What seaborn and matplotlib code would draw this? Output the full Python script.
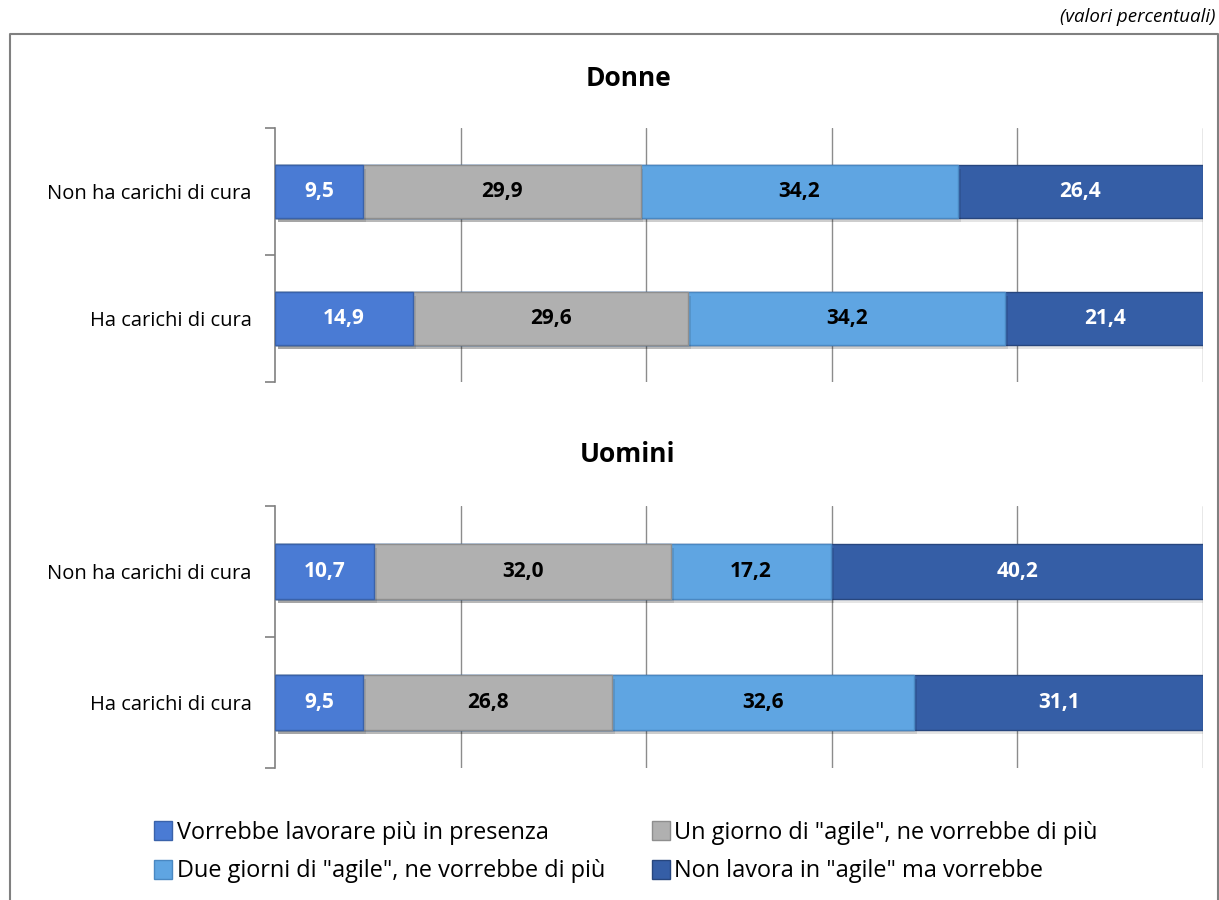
import matplotlib
matplotlib.use("Agg")
import matplotlib.pyplot as plt
import matplotlib.patheffects as pe
from matplotlib.patches import Patch
from matplotlib.lines import Line2D
import numpy as np
import pandas as pd
import seaborn as sns

# Data (percent shares)
categories = ["Non ha carichi di cura", "Ha carichi di cura"]
series_names = [
    "Vorrebbe lavorare più in presenza",
    "Un giorno di \"agile\", ne vorrebbe di più",
    "Due giorni di \"agile\", ne vorrebbe di più",
    "Non lavora in \"agile\" ma vorrebbe",
]
donne = {
    series_names[0]: [9.5, 14.9],
    series_names[1]: [29.9, 29.6],
    series_names[2]: [34.2, 34.2],
    series_names[3]: [26.4, 21.4],
}
uomini = {
    series_names[0]: [10.7, 9.5],
    series_names[1]: [32.0, 26.8],
    series_names[2]: [17.2, 32.6],
    series_names[3]: [40.2, 31.1],
}
panel_titles = ["Donne", "Uomini"]
colors = ["#4A7BD4", "#B0B0B0", "#5FA5E2", "#355EA6"]
edge_colors = ["#3A62AA", "#8E8E8E", "#4A88C2", "#27467E"]
text_colors = ["white", "black", "black", "white"]

sns.set_theme(style="white")
plt.rcParams["font.family"] = ["Open Sans", "DejaVu Sans"]
plt.rcParams["text.color"] = "black"
plt.rcParams["ytick.labelcolor"] = "black"

fig = plt.figure(figsize=(12.19, 9.0), dpi=100)

ax_left = 275 / 1219
ax_width = (1203 - 275) / 1219
axes_specs = [
    (1 - 382 / 900, (382 - 128) / 900),
    (1 - 768 / 900, (768 - 506) / 900),
]
title_y = [1 - 78 / 900, 1 - 455 / 900]

shadow = [pe.SimplePatchShadow(offset=(2, -3), shadow_rgbFace="#000000", alpha=0.1), pe.Normal()]

for data, (bottom, height), title, ty in zip([donne, uomini], axes_specs, panel_titles, title_y):
    ax = fig.add_axes([ax_left, bottom, ax_width, height])
    df = pd.DataFrame(data, index=categories)
    cum = df.cumsum(axis=1)
    # stacked bars: draw cumulative totals from the outermost segment inwards
    for i in range(len(series_names) - 1, -1, -1):
        name = series_names[i]
        sns.barplot(
            x=cum[name].values, y=categories, orient="h", ax=ax,
            color=colors[i], width=0.42, saturation=1,
            edgecolor=edge_colors[i], linewidth=1.0, zorder=3 + (len(series_names) - i),
        )
    for p in ax.patches:
        p.set_path_effects(shadow)
    # value labels centered in each segment
    for j, cat in enumerate(categories):
        start = 0.0
        for i, name in enumerate(series_names):
            v = df.loc[cat, name]
            ax.text(start + v / 2, j, f"{v:.1f}".replace(".", ","),
                    ha="center", va="center", fontsize=15, fontweight="bold",
                    color=text_colors[i], zorder=20)
            start += v
    ax.set_xlim(0, 100)
    ax.set_ylim(1.5, -0.5)
    ax.set_xticks([20, 40, 60, 80, 100])
    ax.set_xticklabels([])
    ax.tick_params(axis="x", length=0)
    ax.grid(axis="x", color="#8C8C8C", linewidth=1.0, zorder=0)
    ax.grid(axis="y", visible=False)
    ax.set_axisbelow(True)
    ax.set_yticks([-0.5, 0.5, 1.5])
    ax.set_yticklabels([])
    ax.set_yticks([0, 1], minor=True)
    ax.set_yticklabels(categories, minor=True, fontsize=14.5, color="black")
    ax.tick_params(axis="y", which="major", direction="out", length=7, width=1.2,
                   color="#808080", left=True)
    ax.tick_params(axis="y", which="minor", length=0, pad=17)
    ax.set_xlabel("")
    ax.set_ylabel("")
    for s in ["top", "right", "bottom"]:
        ax.spines[s].set_visible(False)
    ax.spines["left"].set_color("#808080")
    ax.spines["left"].set_linewidth(1.2)
    fig.text(628 / 1219, ty, title, ha="center", va="center",
             fontsize=19, fontweight="bold", color="black")

# outer frame (open at the bottom)
fx0, fx1, fy = 10 / 1219, 1218 / 1219, 1 - 34 / 900
fig.add_artist(Line2D([fx0, fx0, fx1, fx1], [0, fy, fy, 0], color="#808080",
                      linewidth=1.5, transform=fig.transFigure))

fig.text(1215 / 1219, 1 - 17 / 900, "(valori percentuali)", ha="right", va="center",
         fontsize=13.5, style="italic", color="black")

# legend filled row by row: column-major order of handles
order = [0, 2, 1, 3]
handles = [Patch(facecolor=colors[k], edgecolor=edge_colors[k], linewidth=1.0) for k in order]
labels = [series_names[k] for k in order]
leg = fig.legend(handles, labels, ncol=2, loc="center",
                 bbox_to_anchor=(626 / 1219, 1 - 852 / 900), frameon=False,
                 fontsize=16.9, handlelength=0.75, handleheight=0.85, handletextpad=0.2,
                 columnspacing=2.0, labelspacing=0.62)
for t in leg.get_texts():
    t.set_color("black")

fig.savefig("out.png", dpi=100, facecolor="white")
